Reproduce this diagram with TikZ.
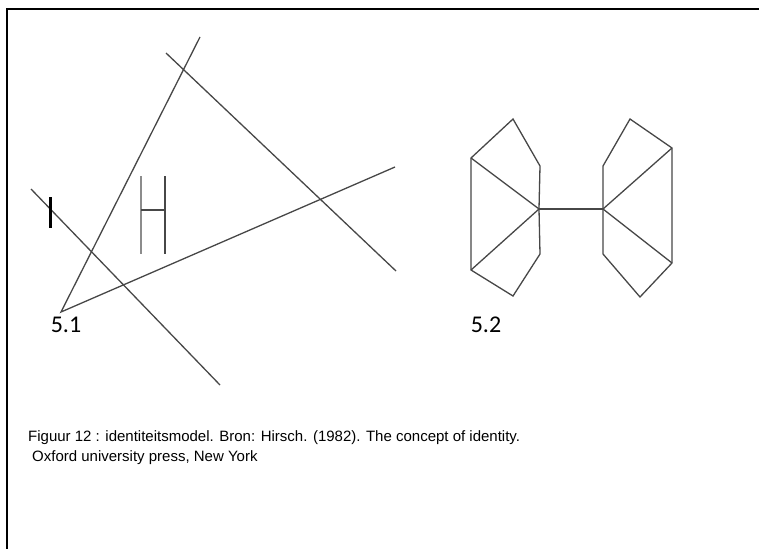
\documentclass[tikz,border=0pt]{standalone}
\usepackage{fontspec}
\setmainfont{Liberation Sans}
\newfontfamily\numfont{Carlito}

\begin{document}
\begin{tikzpicture}[x=1pt,y=-1pt,
  stroke/.style={draw=black!72,line width=1.3pt},
  numtext/.style={font=\numfont\fontsize{24}{24}\selectfont,inner sep=0pt},
  captext/.style={font=\fontsize{15}{18}\selectfont,inner sep=0pt,anchor=base west}]
\useasboundingbox (0,0) rectangle (759,549);
% frame, cut off on the right and at the bottom
\draw[line width=2pt] (759,9) -- (7,9) -- (7,549);

% 5.1
\coordinate (apex) at (61,312);
\coordinate (atop) at (200,37);
\coordinate (bend) at (395,167);
\coordinate (c1) at (166,53);
\coordinate (c2) at (396,271);
\coordinate (d1) at (31,189);
\coordinate (d2) at (220,385);
\draw[stroke] (atop) -- (apex) -- (bend);
\draw[stroke] (c1) -- (c2);
\draw[stroke] (d1) -- (d2);
\draw[line width=3pt] (50,197) -- (50,228);
\draw[draw=black!45,line width=2.5pt] (141,176) -- (141,254);
\draw[stroke] (165,176) -- (165,254);
\draw[stroke] (141,210) -- (165,210);
\node[numtext] (n51) at (66,325) {5.1};

% 5.2
\coordinate (lc) at (539,209);
\coordinate (lt) at (513,119);
\coordinate (lul) at (471,158);
\coordinate (lur) at (540,166);
\coordinate (llr) at (540,254);
\coordinate (lll) at (471,270);
\coordinate (lb) at (513,296);
\coordinate (rc) at (603,209);
\coordinate (rt) at (630,119);
\coordinate (rur) at (672,148);
\coordinate (rul) at (603,166);
\coordinate (rll) at (603,254);
\coordinate (rlr) at (672,263);
\coordinate (rb) at (640,297);
\draw[stroke] (lc) -- (lur) -- (lt) -- (lul) -- (lll) -- (lb) -- (llr) -- (lc);
\draw[stroke] (rc) -- (rul) -- (rt) -- (rur) -- (rlr) -- (rb) -- (rll) -- (rc);
\foreach \p in {lul,lll} \draw[stroke] (lc) -- (\p);
\foreach \p in {rur,rlr} \draw[stroke] (rc) -- (\p);
\draw[stroke] (lc) -- (rc);
\node[numtext] (n52) at (486,325) {5.2};

% caption
\node[captext] (cap1) at (28,441) {Figuur 12 : identiteitsmodel. Bron: Hirsch. (1982). The concept of identity.};
\node[captext] (cap2) at (32,461) {Oxford university press, New York};
\end{tikzpicture}
\end{document}
